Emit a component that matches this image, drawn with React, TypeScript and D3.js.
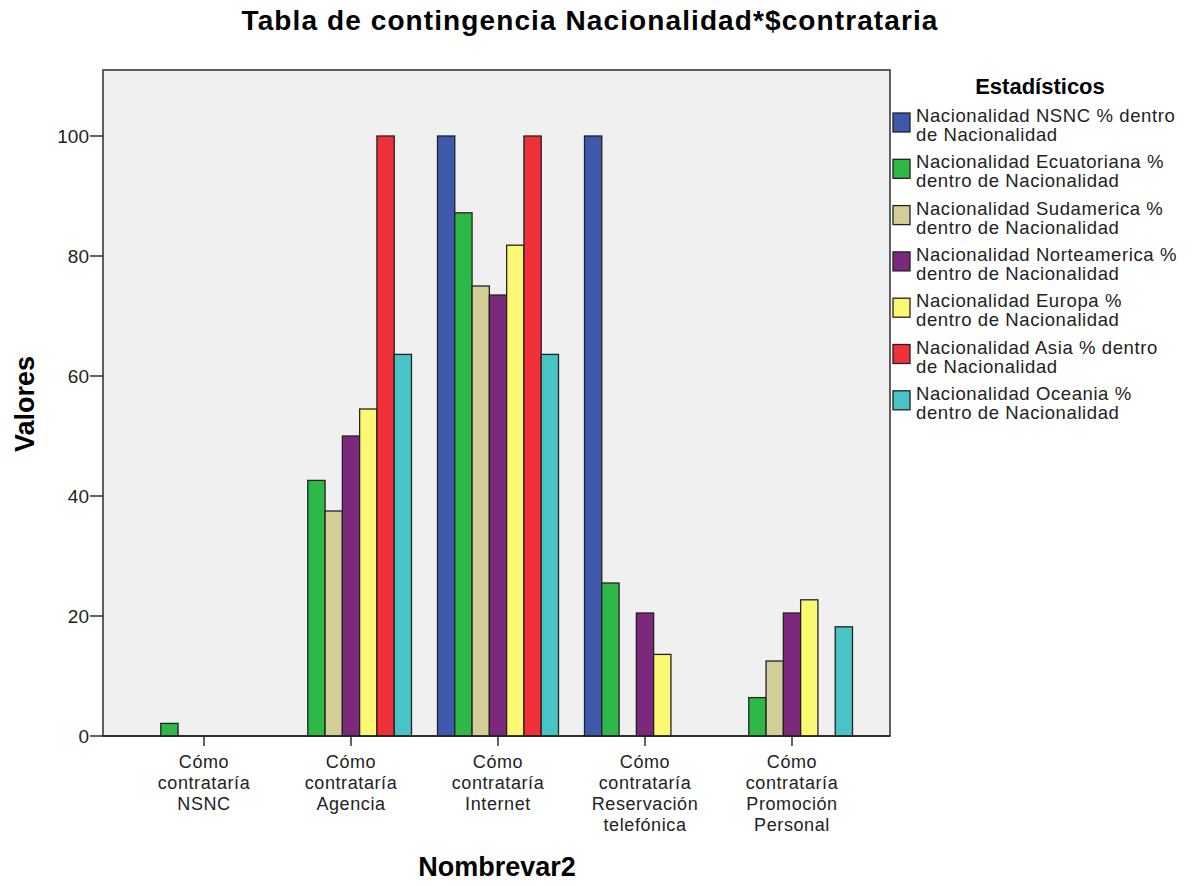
import React from "react";
import * as d3 from "d3";

const categories = [
  ["Cómo", "contrataría", "NSNC"],
  ["Cómo", "contrataría", "Agencia"],
  ["Cómo", "contrataría", "Internet"],
  ["Cómo", "contrataría", "Reservación", "telefónica"],
  ["Cómo", "contrataría", "Promoción", "Personal"],
];
const categoryKeys = ["NSNC", "Agencia", "Internet", "Reservacion", "Promocion"];

const seriesNames = [
  ["Nacionalidad NSNC % dentro", "de Nacionalidad"],
  ["Nacionalidad Ecuatoriana %", "dentro de Nacionalidad"],
  ["Nacionalidad Sudamerica %", "dentro de Nacionalidad"],
  ["Nacionalidad Norteamerica %", "dentro de Nacionalidad"],
  ["Nacionalidad Europa %", "dentro de Nacionalidad"],
  ["Nacionalidad Asia % dentro", "de Nacionalidad"],
  ["Nacionalidad Oceania %", "dentro de Nacionalidad"],
];
const seriesColors = ["#3e58ac", "#2eb848", "#d3ce97", "#7b287d", "#fbf873", "#ef3038", "#48c4c7"];

// values per series, in category order
const nsnc = [0, 0, 100, 100, 0];
const ecuatoriana = [2.1, 42.6, 87.2, 25.5, 6.4];
const sudamerica = [0, 37.5, 75.0, 0, 12.5];
const norteamerica = [0, 50.0, 73.5, 20.5, 20.5];
const europa = [0, 54.5, 81.8, 13.6, 22.7];
const asia = [0, 100, 100, 0, 0];
const oceania = [0, 63.6, 63.6, 0, 18.2];
const seriesValues = [nsnc, ecuatoriana, sudamerica, norteamerica, europa, asia, oceania];

const yTicks = [0, 20, 40, 60, 80, 100];

const FONT = "'Liberation Sans', Arial, sans-serif";

export default function App() {
  const W = 1194, H = 886;
  const plotL = 103, plotR = 890, plotT = 70, plotB = 736;
  const y = d3.scaleLinear().domain([0, 111.0]).range([plotB, plotT]);
  const x = d3.scaleBand<string>().domain(categoryKeys).range([130.5, 865.5]).padding(0);
  const groupW = 121;
  const inner = d3.scaleBand<number>().domain(d3.range(seriesValues.length)).range([0, groupW]).padding(0);

  return (
    <svg width={W} height={H} style={{ display: "block", position: "absolute", left: 0, top: 0, background: "#fff" }} fontFamily={FONT}>
      <rect x={0} y={0} width={W} height={H} fill="#fff" />
      <text x={590} y={30} textAnchor="middle" fontSize={28} fontWeight="bold" fill="#000" letterSpacing={1.1}>
        Tabla de contingencia Nacionalidad*$contrataria
      </text>
      <rect x={plotL} y={plotT} width={plotR - plotL} height={plotB - plotT} fill="#f0f0f0" stroke="#3a3a3a" strokeWidth={1.6} />
      {categoryKeys.map((c, ci) => {
        const cx = (x(c) as number) + x.bandwidth() / 2;
        const gx = cx - groupW / 2;
        return (
          <g key={c}>
            {seriesValues.map((vals, si) =>
              vals[ci] > 0 ? (
                <rect
                  key={si}
                  x={gx + (inner(si) as number)}
                  y={y(vals[ci])}
                  width={inner.bandwidth()}
                  height={plotB - y(vals[ci])}
                  fill={seriesColors[si]}
                  stroke="#222"
                  strokeWidth={1.3}
                />
              ) : null
            )}
          </g>
        );
      })}
      <line x1={plotL} x2={plotR} y1={plotB} y2={plotB} stroke="#222" strokeWidth={1.6} />
      {yTicks.map((t) => (
        <g key={t}>
          <line x1={plotL - 13} x2={plotL} y1={y(t)} y2={y(t)} stroke="#222" strokeWidth={1.4} />
          <text x={plotL - 14} y={y(t) + 7} textAnchor="end" fontSize={19} fill="#222">{t}</text>
        </g>
      ))}
      {categoryKeys.map((c, ci) => {
        const cx = (x(c) as number) + x.bandwidth() / 2;
        return (
          <g key={c}>
            <line x1={cx} x2={cx} y1={plotB} y2={plotB + 10} stroke="#222" strokeWidth={1.4} />
            {categories[ci].map((line, li) => (
              <text key={li} x={cx} y={plotB + 32 + li * 21} textAnchor="middle" fontSize={18} letterSpacing={0.6} fill="#222">{line}</text>
            ))}
          </g>
        );
      })}
      <text x={497} y={876} textAnchor="middle" fontSize={27} fontWeight="bold" fill="#000">Nombrevar2</text>
      <text transform={`translate(34,404) rotate(-90)`} textAnchor="middle" fontSize={27} fontWeight="bold" fill="#000">Valores</text>
      <text x={1040} y={94} textAnchor="middle" fontSize={22} fontWeight="bold" fill="#000">Estadísticos</text>
      {seriesNames.map((lines, si) => {
        const top = 113 + si * 46.3;
        return (
          <g key={si}>
            <rect x={893} y={top} width={17} height={19} fill={seriesColors[si]} stroke="#222" strokeWidth={1.3} />
            {lines.map((l, li) => (
              <text key={li} x={916} y={top + 9 + li * 19} fontSize={18.5} letterSpacing={0.6} fill="#222">{l}</text>
            ))}
          </g>
        );
      })}
    </svg>
  );
}
